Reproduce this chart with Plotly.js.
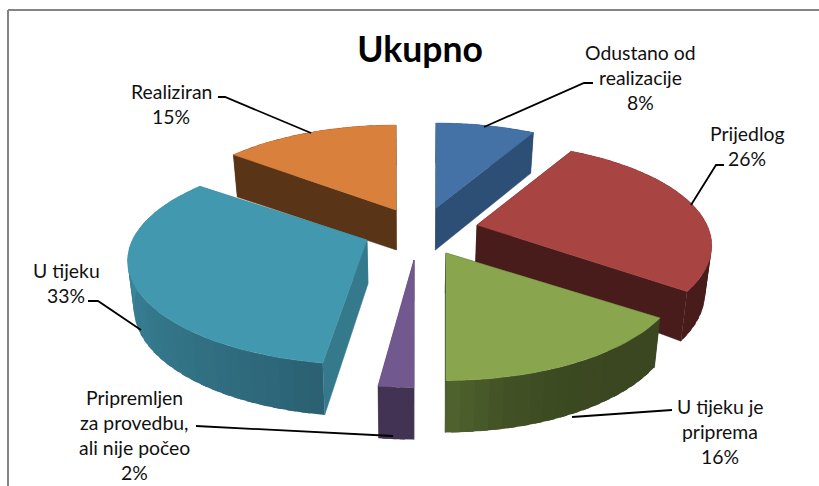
<!DOCTYPE html>
<html><head><meta charset="utf-8">
<script src="https://cdn.plot.ly/plotly-3.0.1.min.js"></script>
<style>html,body{margin:0;padding:0;background:#fff}#c{width:819px;height:486px}</style>
</head><body><div id="c"></div>
<script>
// ---- data (clockwise from 12 o'clock) ----
const categories = [
  ["Odustano od","realizacije"],
  ["Prijedlog"],
  ["U tijeku je","priprema"],
  ["Pripremljen","za provedbu,","ali nije počeo"],
  ["U tijeku"],
  ["Realiziran"]
];
const values = [8, 26, 16, 2, 33, 15];

// ---- style ----
const topColors  = ["#4471a6","#a84543","#89a54e","#71588f","#4198af","#d9813c"];
const sideColors = ["#2d4f75","#481c1a","#3a4720","#433353","#34798c","#593417"];
const wallStart  = ["#2d4f75","#481c1a","#3a4720","#433353","#2a5f70","#593417"];
const wallEnd    = ["#2d4f75","#481c1a","#50652f","#433353","#4094ab","#593417"];
const wallPower  = [1, 1, 4, 1, 0.8, 1];
const apexX = [436, 477, 446, 414, 367, 396];
const apexY = [208, 225, 253, 260, 240, 210];
const apexDepth = [42, 40, 40, 40, 44, 40];
const radiusScale = [1, 1, 1, 1, 1.02, 1];
const flatScale   = [1, 0.97, 1, 1, 0.96, 1];
const startShift = [0, 0, 2, 0, 1.5, 1.5];   // perspective correction of slice edges, degrees
const endShift   = [1, 4, 0, 0, 1, 0];
const drawOrder = [0, 5, 1, 4, 3, 2];
const labelX = [640, 747, 720, 134, 66, 171];
const labelY = [52, 133, 406, 397, 270, 91];
const lineStep = 25;
const leaders = [
  [[593,83],[584,83],[484,127]],
  [[724,165],[716,165],[691,205]],
  [[672,410],[572,417]],
  [[196,426],[393,436]],
  [[88,301],[98,301],[141,330]],
  [[218,97],[225,97],[311,133]]
];
const R = 230, FLAT = 102, PERSP = 0.2, VANISH_X = 410, CONVERGE = 0.022;

function base(x){ return x-(x-VANISH_X)*CONVERGE; }
function proj(deg, i){
  const t = deg*Math.PI/180, X = Math.sin(t), Y = Math.cos(t), s = 1/(1+PERSP*Y), k = radiusScale[i];
  const x = apexX[i]+k*R*X*s;
  return {x: x, y: apexY[i]-k*flatScale[i]*FLAT*Y*s, d: 46-6*Y, bx: base(x)};
}
function hex(c){return [1,3,5].map(j=>parseInt(c.substr(j,2),16));}
function mix(a,b,f){const A=hex(a),B=hex(b);return "rgb("+A.map((v,j)=>Math.round(v+(B[j]-v)*f)).join(",")+")";}
function poly(xs,ys,color,w){
  return {type:"scatter",mode:"lines",x:xs,y:ys,fill:"toself",fillcolor:color,
          line:{color:color,width:w},hoverinfo:"skip",showlegend:false};
}

const total = values.reduce((a,b)=>a+b,0);
const starts = []; let acc = 0;
values.forEach(v=>{starts.push(acc/total*360); acc+=v;});
const traces = [];
drawOrder.forEach(i=>{
  const a0 = starts[i]+startShift[i], a1 = starts[i]+values[i]/total*360+endShift[i];
  const ax = apexX[i], ay = apexY[i], dApex = apexDepth[i];
  const N = Math.max(4, Math.round((a1-a0)/3));
  for(let n=0;n<N;n++){
    const p = proj(a0+(a1-a0)*n/N,i), q = proj(a0+(a1-a0)*Math.min(N,n+1.6)/N,i);
    const f = Math.pow((n+0.5)/N,wallPower[i]);
    traces.push(poly([p.x,q.x,q.bx,p.bx,p.x],[p.y,q.y,q.y+q.d,p.y+p.d,p.y],mix(wallStart[i],wallEnd[i],f),0));
  }
  [a0,a1].forEach(a=>{
    const p = proj(a,i);
    traces.push(poly([ax,p.x,p.bx,base(ax),ax],[ay,p.y,p.y+p.d,ay+dApex,ay],sideColors[i],0.5));
  });
  const xs=[ax], ys=[ay], M=Math.max(8,Math.round((a1-a0)/2));
  for(let n=0;n<=M;n++){const p=proj(a0+(a1-a0)*n/M,i); xs.push(p.x); ys.push(p.y);}
  xs.push(ax); ys.push(ay);
  traces.push(poly(xs,ys,topColors[i],0.5));
});

const annotations = [];
categories.forEach((lines,i)=>{
  lines.concat([values[i]+"%"]).forEach((t,n)=>{
    annotations.push({x:labelX[i],y:labelY[i]+n*lineStep,xref:"x",yref:"y",text:t,showarrow:false,
      xanchor:"center",yanchor:"middle",font:{family:"Lato, sans-serif",size:19.4,color:"#111"}});
  });
});

const shapes = leaders.map(L=>({type:"path",xref:"x",yref:"y",
  path:"M"+L.map(p=>p.join(",")).join("L"),line:{color:"#000",width:1.8}}));
shapes.push({type:"line",xref:"x",yref:"y",x0:8,x1:819,y0:10,y1:10,line:{color:"#848484",width:2}});
shapes.push({type:"line",xref:"x",yref:"y",x0:8,x1:8,y0:10,y1:486,line:{color:"#848484",width:2}});

Plotly.newPlot("c",traces,{
  width:819,height:486,margin:{l:0,r:0,t:0,b:0},paper_bgcolor:"#fff",plot_bgcolor:"#fff",
  title:{text:"<b>Ukupno</b>",x:420/819,xanchor:"center",y:1-50/486,yanchor:"middle",
         font:{family:"Lato, sans-serif",size:35.5,color:"#000"}},
  xaxis:{range:[0,819],visible:false,fixedrange:true},
  yaxis:{range:[486,0],visible:false,fixedrange:true},
  showlegend:false,hovermode:false,annotations:annotations,shapes:shapes
},{displayModeBar:false,staticPlot:true});
</script></body></html>
